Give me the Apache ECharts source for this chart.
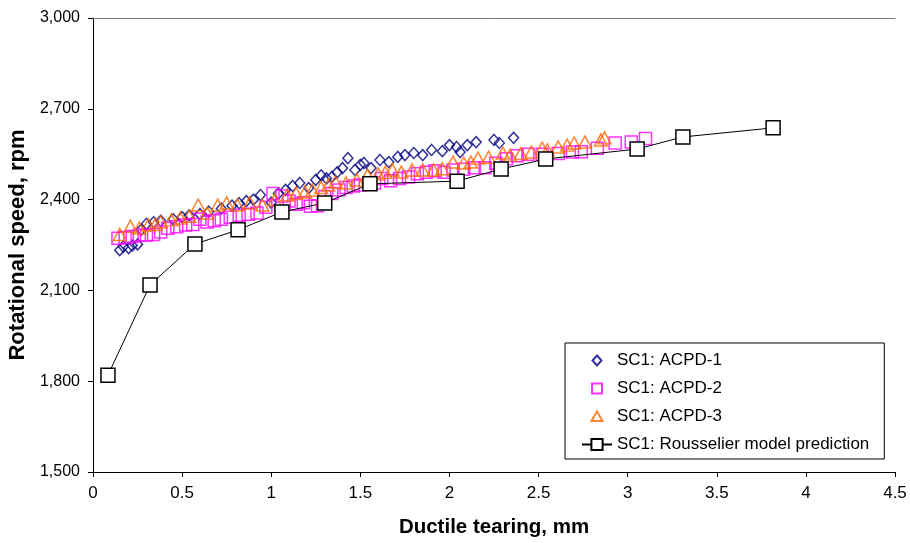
<!DOCTYPE html>
<html>
<head>
<meta charset="utf-8">
<script src="https://cdn.jsdelivr.net/npm/echarts@6/dist/echarts.min.js"></script>
<style>
html,body{margin:0;padding:0;background:#fff;}
#chart{width:910px;height:543px;}
</style>
</head>
<body>
<div id="chart"></div>
<script>
var xTicks = [0, 0.5, 1, 1.5, 2, 2.5, 3, 3.5, 4, 4.5];
var yTicks = [1500, 1800, 2100, 2400, 2700, 3000];
var seriesNames = ['SC1: ACPD-1', 'SC1: ACPD-2', 'SC1: ACPD-3', 'SC1: Rousselier model prediction'];

var acpd1 = [[0.15,2233],[0.17,2245],[0.20,2240],[0.22,2248],[0.25,2252],[0.27,2300],[0.30,2320],[0.34,2325],[0.38,2330],[0.45,2335],[0.50,2342],[0.54,2348],[0.60,2352],[0.65,2360],[0.72,2370],[0.78,2380],[0.82,2388],[0.86,2395],[0.90,2400],[0.94,2415],[1.00,2390],[1.04,2420],[1.08,2432],[1.12,2445],[1.16,2455],[1.21,2438],[1.25,2465],[1.28,2480],[1.31,2470],[1.34,2475],[1.37,2490],[1.40,2504],[1.43,2537],[1.47,2498],[1.50,2515],[1.52,2521],[1.56,2504],[1.61,2531],[1.66,2524],[1.71,2541],[1.75,2547],[1.80,2554],[1.85,2547],[1.90,2564],[1.96,2560],[2.00,2580],[2.04,2574],[2.06,2557],[2.10,2580],[2.15,2590],[2.25,2597],[2.28,2587],[2.36,2604]];

var acpd2 = [[0.14,2272],[0.18,2275],[0.22,2278],[0.26,2282],[0.30,2283],[0.34,2285],[0.38,2293],[0.42,2305],[0.47,2310],[0.52,2316],[0.56,2318],[0.60,2335],[0.64,2326],[0.68,2330],[0.72,2335],[0.77,2342],[0.82,2348],[0.87,2352],[0.92,2356],[0.97,2375],[1.01,2420],[1.06,2412],[1.10,2395],[1.14,2385],[1.18,2390],[1.22,2378],[1.26,2380],[1.30,2410],[1.34,2420],[1.38,2432],[1.42,2440],[1.46,2445],[1.50,2448],[1.55,2452],[1.58,2455],[1.62,2470],[1.67,2462],[1.72,2470],[1.77,2475],[1.82,2485],[1.87,2490],[1.92,2495],[1.97,2490],[2.02,2498],[2.08,2500],[2.14,2505],[2.20,2505],[2.26,2520],[2.32,2535],[2.38,2545],[2.44,2550],[2.52,2550],[2.61,2552],[2.69,2557],[2.74,2558],[2.83,2570],[2.93,2587],[3.02,2590],[3.10,2602]];

var acpd3 = [[0.15,2285],[0.21,2312],[0.26,2306],[0.31,2316],[0.35,2318],[0.38,2326],[0.44,2333],[0.49,2339],[0.54,2345],[0.59,2382],[0.64,2356],[0.70,2382],[0.75,2389],[0.81,2382],[0.88,2389],[0.95,2382],[1.02,2399],[1.09,2415],[1.14,2420],[1.19,2425],[1.23,2432],[1.28,2440],[1.32,2448],[1.36,2458],[1.42,2455],[1.48,2465],[1.54,2481],[1.60,2485],[1.64,2490],[1.68,2498],[1.73,2491],[1.79,2498],[1.85,2498],[1.91,2498],[1.96,2502],[2.02,2524],[2.08,2521],[2.12,2524],[2.16,2537],[2.22,2540],[2.30,2554],[2.34,2547],[2.40,2552],[2.46,2557],[2.52,2570],[2.55,2564],[2.61,2574],[2.66,2580],[2.70,2587],[2.76,2590],[2.85,2597],[2.87,2604]];

var modelX = [0.084, 0.32, 0.572, 0.814, 1.06, 1.30, 1.554, 2.043, 2.29, 2.54, 3.053, 3.31, 3.816];
var modelY = [1820, 2118, 2253, 2300, 2359, 2389, 2452, 2461, 2501, 2534, 2567, 2607, 2637];

var FONT = 'Liberation Sans, Arial, sans-serif';
// legend icons: leading moveTo points fix a 14x14 box so the small shape stays centred and unstretched
var ICON_DIAMOND = 'path://M-7,-7 M7,7 M0,-5 L4.5,0 L0,5 L-4.5,0 Z';
var ICON_SQUARE = 'path://M-7,-7 M7,7 M-5,-5 L5,-5 L5,5 L-5,5 Z';
var ICON_TRIANGLE = 'path://M-7,-7 M7,7 M0,-5 L5.5,4.5 L-5.5,4.5 Z';

var chart = echarts.init(document.getElementById('chart'));
var option = {
  animation: false,
  backgroundColor: '#fff',
  grid: {left: 93, right: 15, top: 18, bottom: 71, containLabel: false, outerBoundsMode: 'none'},
  xAxis: [{
    type: 'value', position: 'bottom',
    min: xTicks[0], max: xTicks[xTicks.length - 1], interval: 0.5,
    name: 'Ductile tearing, mm', nameLocation: 'middle', nameGap: 45,
    nameTextStyle: {fontFamily: FONT, fontSize: 20.5, fontWeight: 'bold', color: '#000'},
    axisLine: {show: true, lineStyle: {color: '#000', width: 1}},
    axisTick: {show: true, inside: false, length: 5, lineStyle: {color: '#000'}},
    axisLabel: {fontFamily: FONT, fontSize: 17, color: '#000', margin: 13},
    splitLine: {show: false}
  }, {
    type: 'value', position: 'top',
    min: xTicks[0], max: xTicks[xTicks.length - 1],
    axisLine: {show: true, lineStyle: {color: '#808080', width: 1}},
    axisTick: {show: false}, axisLabel: {show: false}, splitLine: {show: false}
  }],
  yAxis: {
    type: 'value',
    min: yTicks[0], max: yTicks[yTicks.length - 1], interval: 300,
    name: 'Rotational speed, rpm', nameLocation: 'middle', nameGap: 63,
    nameTextStyle: {fontFamily: FONT, fontSize: 22, fontWeight: 'bold', color: '#000'},
    axisLine: {show: true, lineStyle: {color: '#000', width: 1}},
    axisTick: {show: true, inside: false, length: 5, lineStyle: {color: '#000'}},
    axisLabel: {fontFamily: FONT, fontSize: 16, color: '#000', margin: 13,
      formatter: function (v) { return v.toLocaleString('en-US'); }},
    splitLine: {show: false}
  },
  legend: {
    orient: 'vertical', left: 565, top: 343,
    backgroundColor: '#fff', borderColor: '#000', borderWidth: 1,
    padding: [9, 15, 6, 16],
    itemWidth: 30, itemHeight: 14, itemGap: 11,
    textStyle: {fontFamily: FONT, fontSize: 17, color: '#000'},
    data: [
      {name: seriesNames[0], icon: ICON_DIAMOND},
      {name: seriesNames[1], icon: ICON_SQUARE},
      {name: seriesNames[2], icon: ICON_TRIANGLE},
      {name: seriesNames[3]}
    ]
  },
  series: [{
    name: seriesNames[0], type: 'scatter', data: acpd1,
    symbol: 'diamond', symbolSize: [10, 11],
    itemStyle: {color: 'rgba(0,0,0,0)', borderColor: '#000080', borderWidth: 1.5}
  }, {
    name: seriesNames[1], type: 'scatter', data: acpd2,
    symbol: 'rect', symbolSize: 12,
    itemStyle: {color: 'rgba(0,0,0,0)', borderColor: '#FF00FF', borderWidth: 1.5}
  }, {
    name: seriesNames[2], type: 'scatter', data: acpd3,
    symbol: 'triangle', symbolSize: [13, 12],
    itemStyle: {color: 'rgba(0,0,0,0)', borderColor: '#FF6600', borderWidth: 1.5}
  }, {
    name: seriesNames[3], type: 'line',
    data: modelX.map(function (x, i) { return [x, modelY[i]]; }),
    symbol: 'rect', symbolSize: 14, showAllSymbol: true,
    lineStyle: {color: '#000', width: 1},
    itemStyle: {color: '#fff', borderColor: '#000', borderWidth: 1.5}
  }]
};
chart.setOption(option);
</script>
</body>
</html>
